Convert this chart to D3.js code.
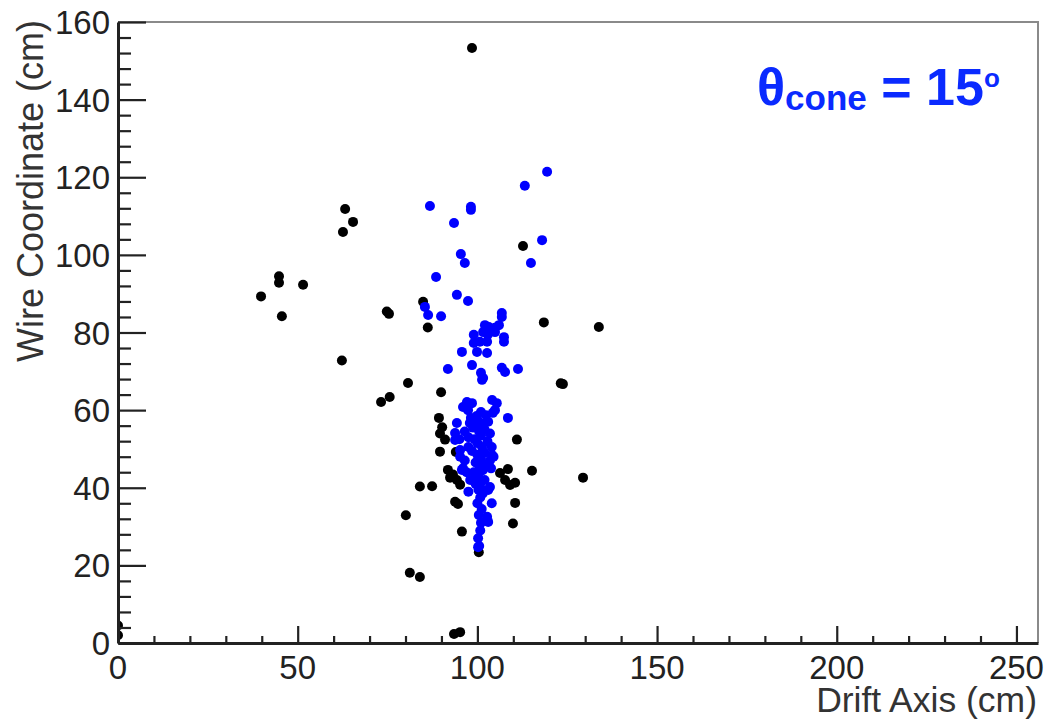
<!DOCTYPE html>
<meta charset="utf-8">
<style>
  body { margin: 0; background: #fff; }
  text { font-family: "Liberation Sans", Arial, Helvetica, sans-serif; }
</style>
<svg width="1051" height="722"></svg>
<script src="https://d3js.org/d3.v7.min.js"></script>
<script>

// black hits (drift cm, wire cm)
var blackPoints = [
  [98.5,153.3],
  [39.8,89.3],[44.8,94.5],[44.8,92.8],[45.6,84.2],[51.5,92.3],
  [63.2,111.8],[65.4,108.5],[62.6,105.9],
  [74.8,85.4],[75.4,84.8],
  [62.3,72.8],[80.7,67],[73.2,62.1],[75.6,63.4],
  [84.9,87.9],[86.2,81.3],[118.5,82.6],[133.8,81.4],
  [112.7,102.3],
  [123.2,66.9],[123.8,66.7],
  [89.9,64.6],
  [89.3,58],[90.2,55.6],[89.6,54],[91,52.4],[111,52.4],
  [89.6,49.3],[94,49.2],
  [91.8,44.6],[93.2,43.4],[92.4,42.6],[94.3,42],[95.2,40.8],
  [84,40.3],[87.4,40.4],
  [106.3,43.8],[108.5,44.8],[107.7,42],[109.1,40.7],[110.5,41.3],[115.2,44.4],[129.4,42.6],
  [93.8,36.4],[94.6,35.8],[110.5,36.1],
  [80.1,32.9],[109.9,30.8],[95.7,28.7],[100.4,23.4],
  [81.2,18.1],[84,17],
  [93.5,2.3],[95.2,2.8],
  [0,2],[0,4.5]
];

// blue hits inside the cone
var bluePoints = [
  [119.4,121.4],[113.2,117.8],[86.8,112.6],[98.2,112.4],[98.2,111.6],[93.5,108.2],
  [95.4,100.2],[96.5,97.9],[118,103.8],[114.9,97.9],[88.5,94.3],[94.3,89.7],
  [97.4,88.1],[85.4,86.6],[86.3,84.5],[89.9,84.2],
  [106.8,85],[106.8,84],[102.1,81.9],[103.2,81.4],[104.9,81.2],[106,81.9],
  [101.6,80.1],[102.9,79.4],[104.9,80.1],[107.4,78.8],[107.4,77.6],[99,79.4],
  [99,77.3],[100.7,77.6],[102.7,77.6],[99.9,75],[102.7,74.7],[95.7,75],
  [98.5,71.6],[101,69.6],[101.6,68.3],[91.8,70.6],[106.8,70.9],[107.7,69.8],
  [111.3,70.6],[101.3,67.8],
  [97.1,62.1],[98.5,61.8],[96,60.8],[97.4,60],[104.1,62.6],[105.4,61.8],
  [104.9,60],[104.3,59.3],[102.4,58.7],[108.5,58],[98.2,58],[97.9,56.7],
  [94.3,56.7],[93.8,54.1],[93.8,52.3],[95.2,49.7],[100.2,56.7],[103.5,47],
  [104.1,48.4],[95.7,44.6],[95.2,48],[102.7,32.5],[103,31.2],[101.6,39.4],
  [100.5,25],[100.2,27],[100.8,29],[101,31],[100.4,33],[101.2,34.5],[100,36],
  [100.8,37.5],[101.5,38.5],[100.3,39.5],[99.5,41],[101,41.5],[102,42],[100.2,43],
  [99,44],[101.5,44.5],[100.6,45.5],[102.5,46],[99.5,46.5],[101,47.5],[100,48.5],
  [102,49],[98.5,49.5],[101.3,50.5],[100,51.5],[102.8,52],[99.2,52.5],[101,53.5],
  [100.5,54.5],[102,55],[98.8,55.5],[101.5,56.5],[100,57.5],[103.5,54],[97.5,50.5],
  [96.5,47],[97,44],[98,42],[103.8,45],[104.5,48],[97.5,53],[104,50.5],[99.8,58.5],
  [101,59.5],[103,57],[103.5,40.2],[103,39.4],[100.2,24.7],[96,45],[97.5,39],
  [104,36],[96.5,54.5],[95,52.5]
];

var xTicks = [0, 50, 100, 150, 200, 250],
    yTicks = [0, 20, 40, 60, 80, 100, 120, 140, 160];

var svg = d3.select("svg"),
    padL = 118, padR = 1038, padT = 22, padB = 643;

var x = d3.scaleLinear().domain([0, 256]).range([padL, padR]),
    y = d3.scaleLinear().domain([0, 160]).range([padB, padT]);

svg.append("clipPath").attr("id", "plot")
  .append("rect")
    .attr("x", padL).attr("y", padT)
    .attr("width", padR - padL).attr("height", padB - padT);

// frame, top & right in grey
svg.append("path")
  .attr("d", "M" + padL + "," + padT + "H" + padR + "V" + padB)
  .attr("fill", "none").attr("stroke", "#8a8a8a").attr("stroke-width", 2);

// points
var dots = svg.append("g").attr("clip-path", "url(#plot)");
dots.selectAll(".blk").data(blackPoints).enter().append("circle")
  .attr("cx", function(d) { return x(d[0]); })
  .attr("cy", function(d) { return y(d[1]); })
  .attr("r", 5).attr("fill", "#000");
dots.selectAll(".blu").data(bluePoints).enter().append("circle")
  .attr("cx", function(d) { return x(d[0]); })
  .attr("cy", function(d) { return y(d[1]); })
  .attr("r", 5).attr("fill", "#0000ff");

// axes (ROOT style: ticks pointing inward)
var xAxis = svg.append("g").attr("transform", "translate(0," + padB + ")")
  .call(d3.axisBottom(x).tickValues(d3.range(0, 251, 10)).tickSize(-7).tickSizeOuter(0).tickFormat(""));
xAxis.selectAll(".tick line").filter(function(d) { return d % 50 === 0; }).attr("y2", -17);

var yAxis = svg.append("g").attr("transform", "translate(" + padL + ",0)")
  .call(d3.axisLeft(y).tickValues(d3.range(0, 161, 4)).tickSize(-13).tickSizeOuter(0).tickFormat(""));
yAxis.selectAll(".tick line").filter(function(d) { return d % 20 === 0; }).attr("x2", 28);

[xAxis, yAxis].forEach(function(a) {
  a.select(".domain").attr("stroke", "#222").attr("stroke-width", 3);
  a.selectAll(".tick line").attr("stroke", "#222").attr("stroke-width", 2.2);
});

// tick labels
svg.selectAll(".xl").data(xTicks).enter().append("text")
  .attr("x", function(d) { return x(d); })
  .attr("y", 679)
  .attr("text-anchor", "middle")
  .attr("font-size", 33).attr("fill", "#222")
  .text(function(d) { return d; });

svg.selectAll(".yl").data(yTicks).enter().append("text")
  .attr("x", 110)
  .attr("y", function(d) { return y(d) + 12; })
  .attr("text-anchor", "end")
  .attr("font-size", 33).attr("fill", "#222")
  .text(function(d) { return d; });

// axis titles
svg.append("text")
  .attr("x", 1037).attr("y", 712)
  .attr("text-anchor", "end")
  .attr("font-size", 35.5).attr("fill", "#333")
  .text("Drift Axis (cm)");

svg.append("text")
  .attr("transform", "translate(43,20) rotate(-90)")
  .attr("text-anchor", "end")
  .attr("font-size", 36).attr("fill", "#333")
  .text("Wire Coordinate (cm)");

// cone label
var lab = svg.append("text")
  .attr("x", 757).attr("y", 105)
  .attr("font-size", 52).attr("font-weight", "bold").attr("fill", "#0a2aff");
lab.append("tspan").text("θ");
lab.append("tspan").attr("font-size", 35).attr("dy", 5).text("cone");
lab.append("tspan").attr("dy", -5).text(" = 15");
lab.append("tspan").attr("font-size", 26).attr("dy", -18).text("o");

</script>
